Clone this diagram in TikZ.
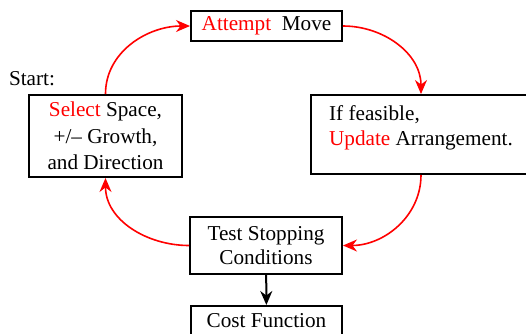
\documentclass[tikz,border=0pt]{standalone}
\usepackage{fontspec}
\setmainfont{Liberation Serif}
\usepackage{xcolor}
\usetikzlibrary{arrows.meta}

\begin{document}
\begin{tikzpicture}[x=0.5pt,y=-0.5pt,
  every node/.style={font=\fontsize{10.6}{12.5}\selectfont},
  box/.style={draw, line width=1pt, inner sep=0pt},
  cycle/.style={-{Stealth[length=7pt,width=6pt]}, red, line width=0.8pt}]
\useasboundingbox (0,0) rectangle (526,333);

\node[box, minimum width=75.5pt, minimum height=15pt] (move) at (266.5,26)
  {{\color{red}Attempt}\ \ Move};
\node[box, align=left, minimum width=110pt, minimum height=39.5pt] (update) at (421,134.5)
  {If feasible,\\ {\color{red}Update} Arrangement.\\[-7pt] \strut};
\node[box, align=center, minimum width=76.5pt, minimum height=41pt,
  font=\fontsize{10.6}{13.2}\selectfont] (select) at (105.5,136)
  {{\color{red}Select} Space,\\ +/-- Growth,\\ and Direction};
\node[box, align=center, minimum width=76pt, minimum height=28.5pt,
  font=\fontsize{10.6}{11.8}\selectfont] (test) at (266,245.5)
  {Test Stopping\\ Conditions};
\node[box, minimum width=75.5pt, minimum height=15pt] (cost) at (266.5,321)
  {Cost Function};
\node (start) at (32,79) {Start:};

% the search loop
\draw[cycle] (select.north) to[out=90,in=180] (move.west);
\draw[cycle] (move.east) to[out=0,in=90] (update.north);
\draw[cycle] (update.south) to[out=270,in=0] (test.east);
\draw[cycle] (test.west) to[out=180,in=270] (select.south);

\draw[-{Stealth[length=7pt,width=6pt]}, line width=1pt] (test) -- (cost);

\end{tikzpicture}
\end{document}
